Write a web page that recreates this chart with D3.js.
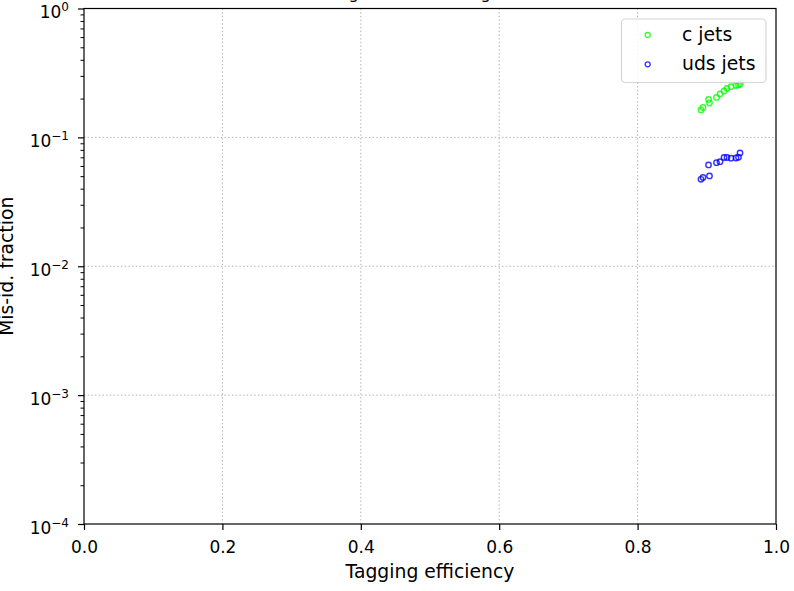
<!DOCTYPE html>
<html>
<head>
<meta charset="utf-8">
<script src="https://cdn.jsdelivr.net/npm/d3@7"></script>
<style>
  html, body { margin: 0; padding: 0; background: #fff; }
  svg { display: block; font-family: "DejaVu Sans", sans-serif; }
</style>
</head>
<body>
<svg id="chart" width="794" height="591"></svg>
<script>
// ---- data ----
const efficiency = [0.8916, 0.8945, 0.9039, 0.9025, 0.9140, 0.9191, 0.9249, 0.9292, 0.9350, 0.9422, 0.9458, 0.9480];
const cJets      = [0.1632, 0.1706, 0.1849, 0.1968, 0.2040, 0.2171, 0.2291, 0.2395, 0.2473, 0.2527, 0.2550, 0.2596];
const udsJets    = [0.0473, 0.0489, 0.0502, 0.0611, 0.0636, 0.0648, 0.0698, 0.0698, 0.0689, 0.0692, 0.0701, 0.0757];
const seriesNames = ["c jets", "uds jets"];
const seriesColors = ["#00ff00", "#0000ff"];
const xTicks = [0.0, 0.2, 0.4, 0.6, 0.8, 1.0];
const yTicks = [1e-4, 1e-3, 1e-2, 1e-1, 1];
const yExponents = ["\u22124", "\u22123", "\u22122", "\u22121", "0"];
const titleText = "Tag rate vs. mis-tag rate";
const xLabel = "Tagging efficiency";
const yLabel = "Mis-id. fraction";

// ---- layout ----
const L = 84, R = 776, T = 8.5, B = 524;
const svg = d3.select("#chart");
const x = d3.scaleLinear().domain([0, 1]).range([L, R]);
const y = d3.scaleLog().domain([1e-4, 1]).range([B, T]);

// grid
const grid = svg.append("g");
grid.selectAll("line.gx").data(xTicks.slice(1, -1)).enter().append("line")
  .attr("x1", d => x(d)).attr("x2", d => x(d)).attr("y1", T).attr("y2", B)
  .attr("stroke", "#b0b0b0").attr("stroke-width", 1).attr("stroke-dasharray", "1.4,2.3");
grid.selectAll("line.gy").data(yTicks.slice(1, -1)).enter().append("line")
  .attr("y1", d => y(d)).attr("y2", d => y(d)).attr("x1", L).attr("x2", R)
  .attr("stroke", "#b0b0b0").attr("stroke-width", 1).attr("stroke-dasharray", "1.4,2.3");

// data points
const series = [cJets, udsJets];
series.forEach((vals, si) => {
  svg.append("g").selectAll("circle").data(vals).enter().append("circle")
    .attr("cx", (d, i) => x(efficiency[i]))
    .attr("cy", d => y(d))
    .attr("r", 2.7)
    .attr("fill", "none")
    .attr("stroke", seriesColors[si])
    .attr("stroke-opacity", 0.8)
    .attr("stroke-width", 1.4);
});

// x axis
const xAxis = svg.append("g").attr("transform", `translate(0,${B})`)
  .call(d3.axisBottom(x).tickValues(xTicks).tickFormat(d3.format(".1f")).tickSize(6).tickSizeOuter(0));
xAxis.select(".domain").remove();
xAxis.selectAll(".tick line").attr("stroke", "#000").attr("stroke-width", 1.2);
xAxis.selectAll(".tick text").attr("y", 29).attr("dy", 0)
  .attr("font-size", 17).attr("font-family", "DejaVu Sans").attr("fill", "#000");

// y axis minor ticks
const minors = [];
for (let e = -4; e < 0; e++) for (let m = 2; m <= 9; m++) minors.push(m * Math.pow(10, e));
const yMinor = svg.append("g").attr("transform", `translate(${L},0)`)
  .call(d3.axisLeft(y).tickValues(minors).tickFormat("").tickSize(3.5).tickSizeOuter(0));
yMinor.select(".domain").remove();
yMinor.selectAll(".tick line").attr("stroke", "#000").attr("stroke-width", 1);

// y axis majors
const yAxis = svg.append("g").attr("transform", `translate(${L},0)`)
  .call(d3.axisLeft(y).tickValues(yTicks).tickFormat(() => "").tickSize(6).tickSizeOuter(0));
yAxis.select(".domain").remove();
yAxis.selectAll(".tick line").attr("stroke", "#000").attr("stroke-width", 1.2);
yAxis.selectAll(".tick text").each(function(d, i) {
  const t = d3.select(this);
  t.text(null).attr("x", -15).attr("y", 9).attr("dy", 0)
    .attr("text-anchor", "end").attr("font-family", "DejaVu Sans").attr("fill", "#000");
  t.append("tspan").attr("font-size", 17).text("10");
  t.append("tspan").attr("font-size", 12).attr("dy", -7).text(yExponents[i]);
});

// frame
svg.append("rect").attr("x", L).attr("y", T).attr("width", R - L).attr("height", B - T)
  .attr("fill", "none").attr("stroke", "#000").attr("stroke-width", 1.2);

// title (mostly outside the view, as in the reference)
svg.append("text").attr("x", (L + R) / 2).attr("y", -1).attr("text-anchor", "middle")
  .attr("font-size", 16.1).attr("fill", "#000").text(titleText);

// axis labels
svg.append("text").attr("x", (L + R) / 2).attr("y", 578).attr("text-anchor", "middle")
  .attr("font-size", 18.8).attr("fill", "#000").text(xLabel);
svg.append("text").attr("transform", `translate(13,${(T + B) / 2}) rotate(-90)`)
  .attr("text-anchor", "middle").attr("font-size", 18.8).attr("fill", "#000").text(yLabel);

// legend
const lg = svg.append("g");
lg.append("rect").attr("x", 621.5).attr("y", 19).attr("width", 144.5).attr("height", 63.5)
  .attr("rx", 4).attr("ry", 4).attr("fill", "#fff").attr("fill-opacity", 0.8)
  .attr("stroke", "#d5d5d5").attr("stroke-width", 1.2);
const legendRows = [35, 64.3];
seriesNames.forEach((name, i) => {
  lg.append("circle").attr("cx", 647.7).attr("cy", legendRows[i]).attr("r", 2.5)
    .attr("fill", "none").attr("stroke", seriesColors[i]).attr("stroke-opacity", 0.8).attr("stroke-width", 1.3);
  lg.append("text").attr("x", 682).attr("y", legendRows[i] + 5.8)
    .attr("font-size", 18.8).attr("fill", "#000").text(name);
});
</script>
</body>
</html>
